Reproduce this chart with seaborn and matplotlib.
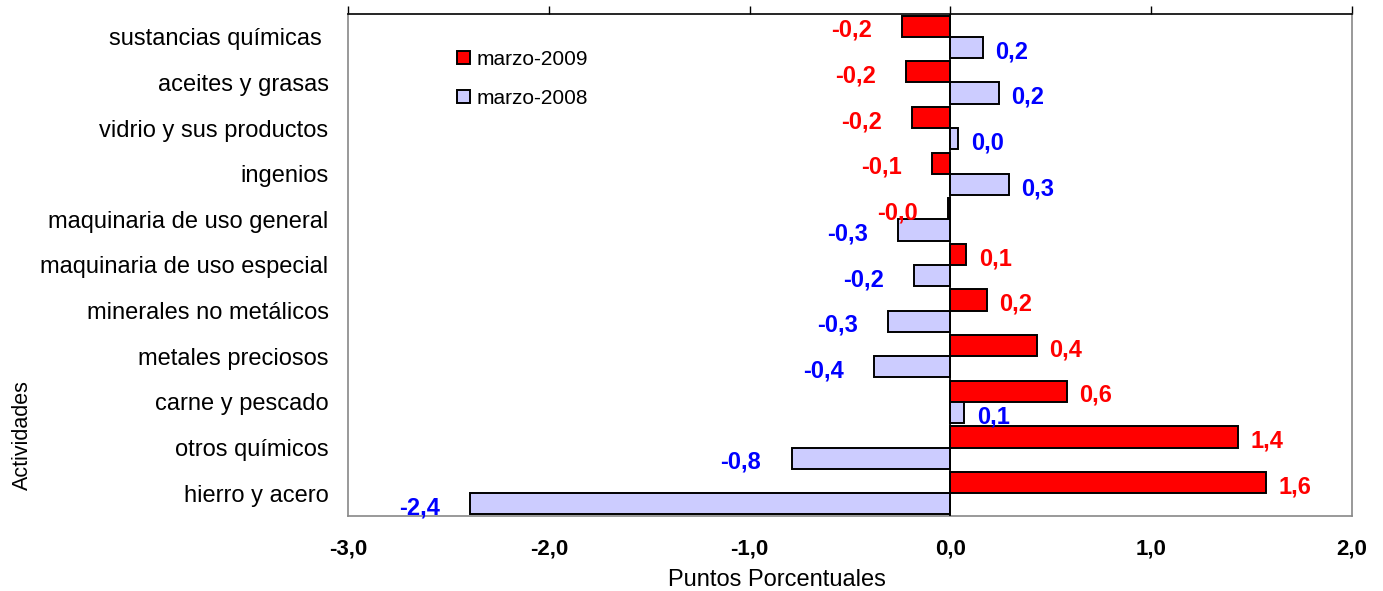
import matplotlib
matplotlib.use("Agg")
import matplotlib.pyplot as plt
import seaborn as sns
import pandas as pd

# data (top to bottom)
actividades = [
    "sustancias químicas ", "aceites y grasas", "vidrio y sus productos",
    "ingenios", "maquinaria de uso general", "maquinaria de uso especial",
    "minerales no metálicos", "metales preciosos", "carne y pescado",
    "otros químicos", "hierro y acero",
]
marzo_2009 = [-0.24, -0.22, -0.19, -0.09, -0.01, 0.08, 0.18, 0.43, 0.58, 1.43, 1.57]
marzo_2008 = [0.16, 0.24, 0.04, 0.29, -0.26, -0.18, -0.31, -0.38, 0.07, -0.79, -2.39]
series = ["marzo-2009", "marzo-2008"]
x_ticks = [-3, -2, -1, 0, 1, 2]

colors = {"marzo-2009": "#FF0000", "marzo-2008": "#CCCCFF"}
label_colors = {"marzo-2009": "#FF0000", "marzo-2008": "#0000FF"}

df = pd.DataFrame({
    "actividad": actividades * 2,
    "serie": [series[0]] * len(actividades) + [series[1]] * len(actividades),
    "valor": marzo_2009 + marzo_2008,
})

sns.set_style("white")
plt.rcParams["font.family"] = ["Liberation Sans", "DejaVu Sans"]
plt.rcParams["text.color"] = "black"
plt.rcParams["axes.labelcolor"] = "black"
plt.rcParams["xtick.color"] = "black"
plt.rcParams["ytick.color"] = "black"

W, H = 1383, 591
fig = plt.figure(figsize=(W / 100, H / 100), dpi=100)
ax = fig.add_axes([348 / W, 1 - 516 / H, 1004 / W, 502 / H])

sns.barplot(data=df, y="actividad", x="valor", hue="serie", order=actividades,
            hue_order=series, palette=colors, orient="h", width=0.93,
            edgecolor="black", linewidth=1.4, saturation=1, ax=ax, legend=True)

ax.axvline(0, color="black", lw=1.3, zorder=3)

# value labels just outside the bar ends
for cont, name in zip(ax.containers, series):
    for bar in cont:
        v = bar.get_width()
        yc = bar.get_y() + bar.get_height() / 2
        txt = f"{v:.1f}".replace(".", ",")
        if v < 0:
            off, ha = -22, "right"
        else:
            off, ha = 9, "left"
        ax.annotate(txt, (v, yc), xytext=(off, -3), textcoords="offset points",
                    ha=ha, va="center", color=label_colors[name],
                    fontsize=17, fontweight="bold")

ax.set_xlim(-3, 2)
ax.set_xticks(x_ticks)
ax.set_xticklabels([f"{t:.1f}".replace(".", ",") for t in x_ticks],
                   fontsize=16, fontweight="bold")
ax.tick_params(axis="x", bottom=False, top=True, direction="out", length=6,
               width=1, color="black", pad=10)
ax.tick_params(axis="y", left=False, length=0, pad=14, labelsize=17)

for side in ["left", "right", "bottom"]:
    ax.spines[side].set_color("#888888")
    ax.spines[side].set_linewidth(1.2)
ax.spines["top"].set_color("black")
ax.spines["top"].set_linewidth(1.2)

ax.set_xlabel("Puntos Porcentuales", fontsize=17)
ax.xaxis.label.set_va("center")
ax.xaxis.set_label_coords((777 - 348) / 1004, (516 - 580) / 502)
ax.set_ylabel("Actividades", fontsize=15.5)
ax.yaxis.label.set_va("center")
ax.yaxis.set_label_coords((22 - 348) / 1004, (516 - 435) / 502)

handles, labels = ax.get_legend_handles_labels()
ax.legend(handles, labels, loc="upper left", bbox_to_anchor=(457 / W, 1 - 50 / H),
          bbox_transform=fig.transFigure, frameon=False, fontsize=15,
          handlelength=0.6, handleheight=0.6, handletextpad=0.35,
          labelspacing=0.95, borderpad=0, borderaxespad=0)

fig.savefig("out.png", dpi=100)
